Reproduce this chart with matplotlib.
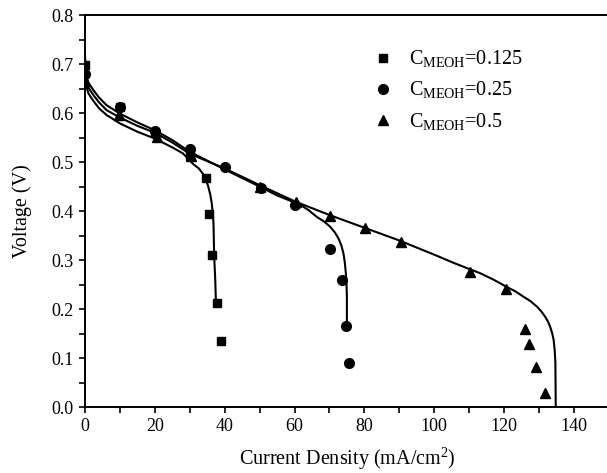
import matplotlib.pyplot as plt
from matplotlib.ticker import MultipleLocator

plt.rcParams['font.family'] = ['Liberation Serif', 'DejaVu Serif']
plt.rcParams['mathtext.fontset'] = 'custom'
plt.rcParams['mathtext.rm'] = 'Liberation Serif'

# measured points
sq_x = [0, 10, 20, 30, 34.6, 35.5, 36.5, 37.7, 39.0]
sq_v = [0.698, 0.613, 0.560, 0.512, 0.467, 0.394, 0.310, 0.213, 0.135]

ci_x = [0, 10, 20, 30, 40, 50.4, 60.2, 70.2, 73.5, 74.8, 75.5]
ci_v = [0.680, 0.612, 0.563, 0.526, 0.489, 0.448, 0.412, 0.322, 0.259, 0.165, 0.089]

tr_x = [0, 9.8, 20.5, 30.4, 50, 60.4, 70.2, 80.2, 90.4, 110.3, 120.5, 126.0, 127.1, 129.2, 131.6]
tr_v = [0.665, 0.596, 0.552, 0.512, 0.450, 0.419, 0.390, 0.365, 0.337, 0.276, 0.240, 0.160, 0.128, 0.082, 0.028]

# model curves
fit1_x = [0, 0.15, 0.4, 1.0, 2.4, 4.0, 6.2, 10, 15, 20, 25, 28, 31.0, 32.6, 33.9, 34.7, 35.3, 35.9, 36.3, 36.6, 36.8, 37.0, 37.3, 37.5]
fit1_v = [0.700, 0.675, 0.655, 0.640, 0.625, 0.610, 0.596, 0.579, 0.562, 0.548, 0.530, 0.518, 0.496, 0.487, 0.475, 0.463, 0.450, 0.433, 0.416, 0.395, 0.375, 0.307, 0.260, 0.213]

fit2_x = [0, 0.15, 0.4, 1.0, 2.4, 4.0, 6.2, 10, 15, 20, 25, 30, 40, 50, 55, 61.6, 64.0, 66.4, 68.4, 70.2, 71.5, 72.6, 73.4, 74.0, 74.4, 74.7, 74.9, 75.0, 75.0]
fit2_v = [0.720, 0.695, 0.675, 0.662, 0.647, 0.632, 0.616, 0.599, 0.581, 0.565, 0.545, 0.521, 0.485, 0.450, 0.432, 0.413, 0.402, 0.388, 0.379, 0.368, 0.357, 0.344, 0.330, 0.314, 0.295, 0.273, 0.250, 0.225, 0.165]

fit3_x = [0, 0.15, 0.4, 1.0, 2.4, 4.0, 6.2, 10, 15, 20, 25, 30, 40, 50, 60, 70, 80, 90, 100, 106, 113.2, 117, 120.8, 123.3, 125.6, 127.6, 129.4, 130.7, 131.8, 132.6, 133.2, 133.8, 134.2, 134.5, 134.7, 134.8]
fit3_v = [0.710, 0.685, 0.665, 0.652, 0.637, 0.622, 0.606, 0.591, 0.574, 0.560, 0.540, 0.517, 0.487, 0.453, 0.420, 0.392, 0.366, 0.340, 0.311, 0.293, 0.273, 0.260, 0.245, 0.236, 0.225, 0.216, 0.205, 0.195, 0.184, 0.174, 0.164, 0.150, 0.137, 0.116, 0.090, 0.0]

labels = [r'C$_{\mathrm{MEOH}}$=0.125', r'C$_{\mathrm{MEOH}}$=0.25', r'C$_{\mathrm{MEOH}}$=0.5']

fig = plt.figure(figsize=(6.07, 4.73), dpi=100)
ax = fig.add_axes([0.140, 0.1395, 0.863, 0.8285])

for fx, fv in [(fit1_x, fit1_v), (fit2_x, fit2_v), (fit3_x, fit3_v)]:
    ax.plot(fx, fv, color='black', lw=1.5, zorder=2, solid_joinstyle='round')

ax.plot(sq_x, sq_v, 's', color='black', ms=6, ls='none', label=labels[0], zorder=3)
ax.plot(ci_x, ci_v, 'o', color='black', ms=7, ls='none', label=labels[1], zorder=3)
ax.plot(tr_x, tr_v, '^', color='black', ms=7.5, ls='none', label=labels[2], zorder=3)

ax.set_xlim(0, 150)
ax.set_ylim(0, 0.8)
ax.xaxis.set_major_locator(MultipleLocator(20))
ax.xaxis.set_minor_locator(MultipleLocator(10))
ax.yaxis.set_major_locator(MultipleLocator(0.1))
ax.yaxis.set_minor_locator(MultipleLocator(0.05))
ax.yaxis.set_major_formatter(plt.FuncFormatter(lambda v, p: f'{v:.1f}'))
ax.tick_params(which='both', direction='out', width=1.2, labelsize=13)
ax.tick_params(which='major', length=4.5)
ax.tick_params(which='minor', length=4)
ax.tick_params(top=False, right=False, which='both')
ax.spines['right'].set_visible(False)
for s in ['left', 'bottom', 'top']:
    ax.spines[s].set_linewidth(1.4)

ax.set_xlabel('Current Density (mA/cm$^{2}$)', fontsize=14.5, labelpad=7)
ax.set_ylabel('Voltage (V)', fontsize=14.5, labelpad=14)

ax.legend(loc='upper left', bbox_to_anchor=(0.515, 0.935), frameon=False,
          fontsize=14.5, handletextpad=0.3, labelspacing=0.5, borderaxespad=0)

fig.savefig('out.png', dpi=100)
